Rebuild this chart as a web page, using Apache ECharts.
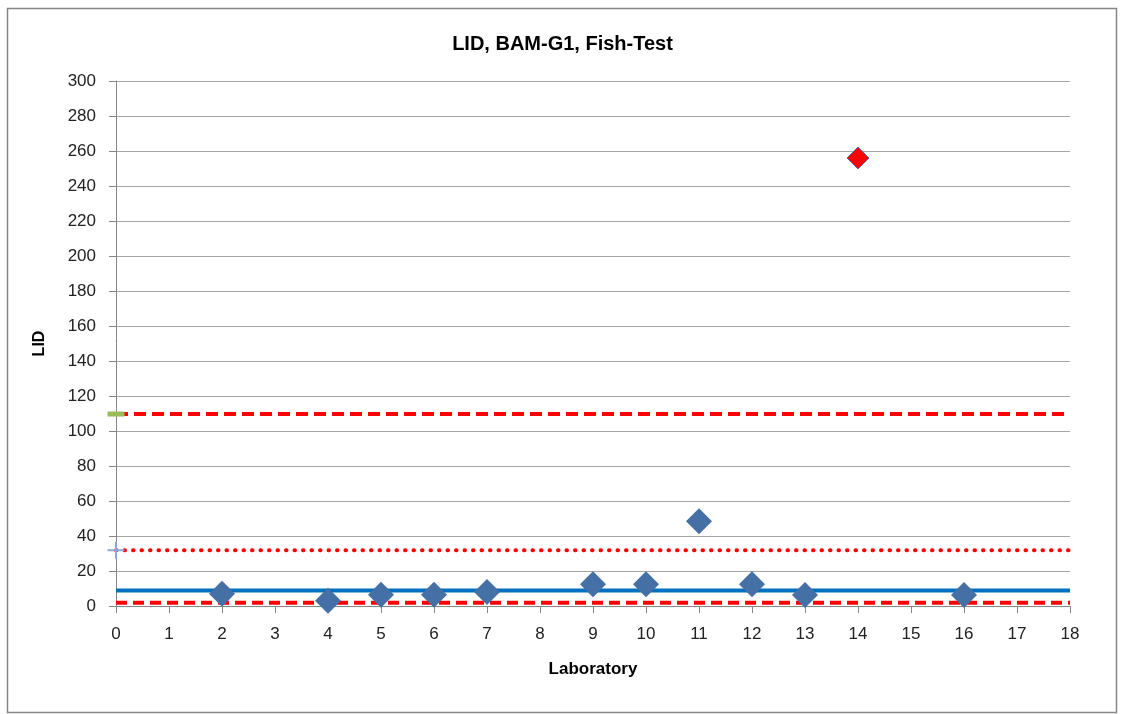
<!DOCTYPE html>
<html>
<head>
<meta charset="utf-8">
<script src="https://cdn.jsdelivr.net/npm/echarts@6/dist/echarts.min.js"></script>
<style>
html,body{margin:0;padding:0;background:#fff;}
#chart{width:1125px;height:714px;}
</style>
</head>
<body>
<div id="chart"></div>
<script>
// Data
const labs = [2, 4, 5, 6, 7, 9, 10, 11, 12, 13, 16];
const lidValues = [7.0, 3.0, 6.5, 6.5, 8.0, 12.5, 12.5, 48.5, 12.5, 6.3, 6.3];
const outlierLabs = [14];
const outlierValues = [256];
const upperLimit = 109.7;
const lowerLimit = 1.9;
const meanValue = 8.9;
const dottedLimit = 31.9;
const xTicks = [0, 18, 1];   // min, max, interval
const yTicks = [0, 300, 20]; // min, max, interval

const chart = echarts.init(document.getElementById('chart'));
const font = '"Liberation Sans", Arial, sans-serif';
function hline(v) { return [[xTicks[0], v], [xTicks[1], v]]; }

chart.setOption({
  backgroundColor: '#fff',
  animation: false,
  title: {
    text: 'LID, BAM-G1, Fish-Test',
    left: 'center',
    top: 29,
    textStyle: { fontFamily: font, fontSize: 20, fontWeight: 'bold', color: '#000' }
  },
  graphic: [{
    type: 'rect',
    shape: { x: 7.5, y: 8.5, width: 1109, height: 704 },
    style: { fill: 'none', stroke: '#868686', lineWidth: 1.5 },
    z: -1
  }],
  grid: { left: 116, right: 55, top: 81, bottom: 108 },
  xAxis: {
    type: 'value',
    min: xTicks[0], max: xTicks[1], interval: xTicks[2],
    name: 'Laboratory',
    nameLocation: 'middle',
    nameGap: 55,
    nameTextStyle: { fontFamily: font, fontSize: 17, fontWeight: 'bold', color: '#000' },
    axisLine: { lineStyle: { color: '#868686', width: 1 } },
    axisTick: { show: true, length: 7, lineStyle: { color: '#868686' } },
    axisLabel: { fontFamily: font, fontSize: 17, color: '#222', margin: 20 },
    splitLine: { show: false }
  },
  yAxis: {
    type: 'value',
    min: yTicks[0], max: yTicks[1], interval: yTicks[2],
    name: 'LID',
    nameLocation: 'middle',
    nameGap: 68,
    nameRotate: 90,
    nameTextStyle: { fontFamily: font, fontSize: 16, fontWeight: 'bold', color: '#000' },
    axisLine: { show: true, lineStyle: { color: '#868686', width: 1 } },
    axisTick: { show: true, length: 7, lineStyle: { color: '#868686' } },
    axisLabel: { fontFamily: font, fontSize: 17, color: '#222', margin: 20 },
    splitLine: { show: true, lineStyle: { color: '#a6a6a6', width: 1 } }
  },
  series: [
    {
      type: 'line', data: hline(upperLimit), symbol: 'none', z: 2,
      lineStyle: { color: '#ff0000', width: 4, type: [12, 6] }
    },
    {
      type: 'line', data: hline(lowerLimit), symbol: 'none', z: 2,
      lineStyle: { color: '#ff0000', width: 4, type: [11, 6] }
    },
    {
      type: 'line', data: hline(dottedLimit), symbol: 'none', z: 2,
      lineStyle: { color: '#ff0000', width: 4, type: [0.5, 8], cap: 'round' }
    },
    {
      type: 'line', data: hline(meanValue), symbol: 'none', z: 2,
      lineStyle: { color: '#0070c0', width: 4 }
    },
    {
      type: 'scatter', data: [[xTicks[0], upperLimit]], z: 3,
      symbol: 'rect', symbolSize: [17, 5],
      itemStyle: { color: '#9bbb59', opacity: 1 }
    },
    {
      type: 'scatter', data: [[xTicks[0], dottedLimit]], z: 3,
      symbol: 'path://M4.4,0 L5.6,0 L5.6,4.4 L10,4.4 L10,5.6 L5.6,5.6 L5.6,10 L4.4,10 L4.4,5.6 L0,5.6 L0,4.4 L4.4,4.4 Z',
      symbolSize: 17,
      itemStyle: { color: '#8aa7dc', opacity: 1 }
    },
    {
      type: 'scatter', z: 5,
      data: labs.map((x, i) => [x, lidValues[i]]),
      symbol: 'diamond', symbolSize: 26,
      itemStyle: { color: '#4470a6', opacity: 1 }
    },
    {
      type: 'scatter', z: 5,
      data: outlierLabs.map((x, i) => [x, outlierValues[i]]),
      symbol: 'diamond', symbolSize: 22,
      itemStyle: { color: '#ff0000', borderColor: '#5b6aa8', borderWidth: 1, opacity: 1 }
    }
  ]
});
</script>
</body>
</html>
